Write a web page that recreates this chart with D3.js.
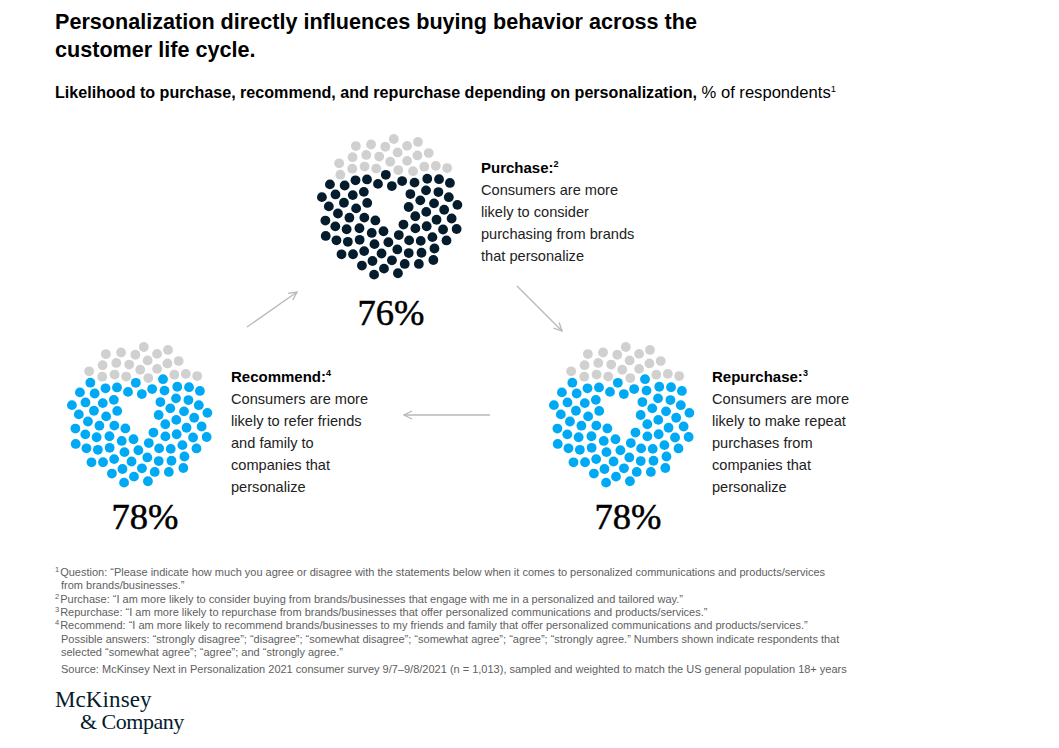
<!DOCTYPE html>
<html><head><meta charset="utf-8">
<script src="https://cdn.jsdelivr.net/npm/d3@7"></script>
<style>
body{margin:0;background:#fff;}
svg text{font-family:"Liberation Sans",Arial,sans-serif;}
</style></head>
<body><svg id="c" width="1059" height="748"></svg>
<script>
const stages = ["Purchase", "Repurchase", "Recommend"];
const values = [76, 78, 78];
const footRefs = ["2", "3", "4"];
const descriptions = [
  ["Consumers are more", "likely to consider", "purchasing from brands", "that personalize"],
  ["Consumers are more", "likely to make repeat", "purchases from", "companies that", "personalize"],
  ["Consumers are more", "likely to refer friends", "and family to", "companies that", "personalize"]
];
const colors = ["#051c2c", "#00a9f4", "#00a9f4"];
const totalDots = 100;
const footnotes = [
  ["1", "Question: \u201cPlease indicate how much you agree or disagree with the statements below when it comes to personalized communications and products/services"],
  ["", "from brands/businesses.\u201d"],
  ["2", "Purchase: \u201cI am more likely to consider buying from brands/businesses that engage with me in a personalized and tailored way.\u201d"],
  ["3", "Repurchase: \u201cI am more likely to repurchase from brands/businesses that offer personalized communications and products/services.\u201d"],
  ["4", "Recommend: \u201cI am more likely to recommend brands/businesses to my friends and family that offer personalized communications and products/services.\u201d"],
  ["", "Possible answers: \u201cstrongly disagree\u201d; \u201cdisagree\u201d; \u201csomewhat disagree\u201d; \u201csomewhat agree\u201d; \u201cagree\u201d; \u201cstrongly agree.\u201d Numbers shown indicate respondents that"],
  ["", "selected \u201csomewhat agree\u201d; \u201cagree\u201d; and \u201cstrongly agree.\u201d"],
  ["", "Source: McKinsey Next in Personalization 2021 consumer survey 9/7\u20139/8/2021 (n = 1,013), sampled and weighted to match the US general population 18+ years"]
];

const svg = d3.select("#c");

// Title
const title = svg.append("g").attr("fill", "#000");
["Personalization directly influences buying behavior across the", "customer life cycle."].forEach((t, i) => {
  title.append("text").attr("x", 55).attr("y", 29 + i * 28).attr("font-size", 21.6).attr("font-weight", "bold").text(t);
});
const sub = svg.append("text").attr("x", 55).attr("y", 98).attr("font-size", 16.6);
sub.append("tspan").attr("font-weight", "bold").attr("font-size", 16.1).text("Likelihood to purchase, recommend, and repurchase depending on personalization, ");
sub.append("tspan").text("% of respondents");
sub.append("tspan").attr("font-size", 9.5).attr("dy", -6).text("1");

// Layout positions
const centers = [{x: 390, y: 207}, {x: 622, y: 415}, {x: 140, y: 415}];
const labelPos = [{x: 481, y: 173, px: 391, py: 325}, {x: 712, y: 382, px: 628, py: 529}, {x: 231, y: 382, px: 145, py: 529}];

const countScale = d3.scaleLinear().domain([0, 100]).range([0, totalDots]);
const golden = Math.PI * (3 - Math.sqrt(5));
const R = 71, rh = 18;
const basePts = d3.range(totalDots).map(i => {
  const f = (i + 0.5) / totalDots;
  const r = Math.sqrt(rh * rh + (R * R - rh * rh) * f);
  const a = i * golden;
  return {x: r * Math.cos(a), y: r * Math.sin(a)};
});
const sortedPts = basePts.slice().sort((a, b) => a.y - b.y);

stages.forEach((s, k) => {
  const c = centers[k];
  const nColored = Math.round(countScale(values[k]));
  const nGrey = totalDots - nColored;
  const g = svg.append("g").attr("transform", `translate(${c.x},${c.y})`);
  g.selectAll("circle").data(sortedPts).join("circle")
    .attr("cx", d => d.x).attr("cy", d => d.y).attr("r", 4.9)
    .attr("fill", (d, i) => i < nGrey ? "#d0d0d0" : colors[k]);

  const lp = labelPos[k];
  svg.append("text").attr("x", lp.px).attr("y", lp.py).attr("text-anchor", "middle")
    .style("font-family", "'Liberation Serif',serif")
    .attr("font-size", 36.5).attr("fill", "#000").attr("stroke", "#000").attr("stroke-width", 0.5)
    .text(values[k] + "%");

  const t = svg.append("text").attr("x", lp.x).attr("y", lp.y).attr("font-size", 15).attr("font-weight", "bold").attr("fill", "#000");
  t.append("tspan").text(s + ":");
  t.append("tspan").attr("font-size", 9).attr("dy", -6).text(footRefs[k]);
  descriptions[k].forEach((line, j) => {
    svg.append("text").attr("x", lp.x).attr("y", lp.y + 22 * (j + 1)).attr("font-size", 14.6).attr("fill", "#222").text(line);
  });
});

// Arrows
const defs = svg.append("defs");
defs.append("marker").attr("id", "ah").attr("viewBox", "0 0 10 10").attr("refX", 9).attr("refY", 5)
  .attr("markerWidth", 10).attr("markerHeight", 10).attr("markerUnits", "userSpaceOnUse").attr("orient", "auto")
  .append("path").attr("d", "M1,1 L9,5 L1,9").attr("fill", "none").attr("stroke", "#b8b8b8").attr("stroke-width", 1.3);
const arrows = [[247, 327, 297, 292], [517, 286, 562, 331], [490, 415, 404, 415]];
svg.selectAll("line.arrow").data(arrows).join("line").attr("class", "arrow")
  .attr("x1", d => d[0]).attr("y1", d => d[1]).attr("x2", d => d[2]).attr("y2", d => d[3])
  .attr("stroke", "#b8b8b8").attr("stroke-width", 1.3).attr("marker-end", "url(#ah)");

// Footnotes
const fy = [576, 589, 603, 616, 629, 643, 656, 673];
footnotes.forEach((f, i) => {
  const t = svg.append("text").attr("x", 55).attr("y", fy[i]).attr("font-size", 11.0).attr("fill", "#606060");
  if (f[0]) {
    t.append("tspan").attr("font-size", 7.5).attr("dy", -4).text(f[0]);
    t.append("tspan").attr("dy", 4).attr("dx", 1).text(f[1]);
  } else {
    t.append("tspan").attr("x", 61).text(f[1]);
  }
});

// Logo
const logo = svg.append("g").attr("fill", "#051c2c");
logo.append("text").attr("x", 55).attr("y", 707).attr("font-size", 23).style("font-family", "'Liberation Serif',serif").attr("letter-spacing", 0.1).text("McKinsey");
logo.append("text").attr("x", 80).attr("y", 729).attr("font-size", 22).style("font-family", "'Liberation Serif',serif").attr("letter-spacing", -0.5).text("& Company");
</script></body></html>
